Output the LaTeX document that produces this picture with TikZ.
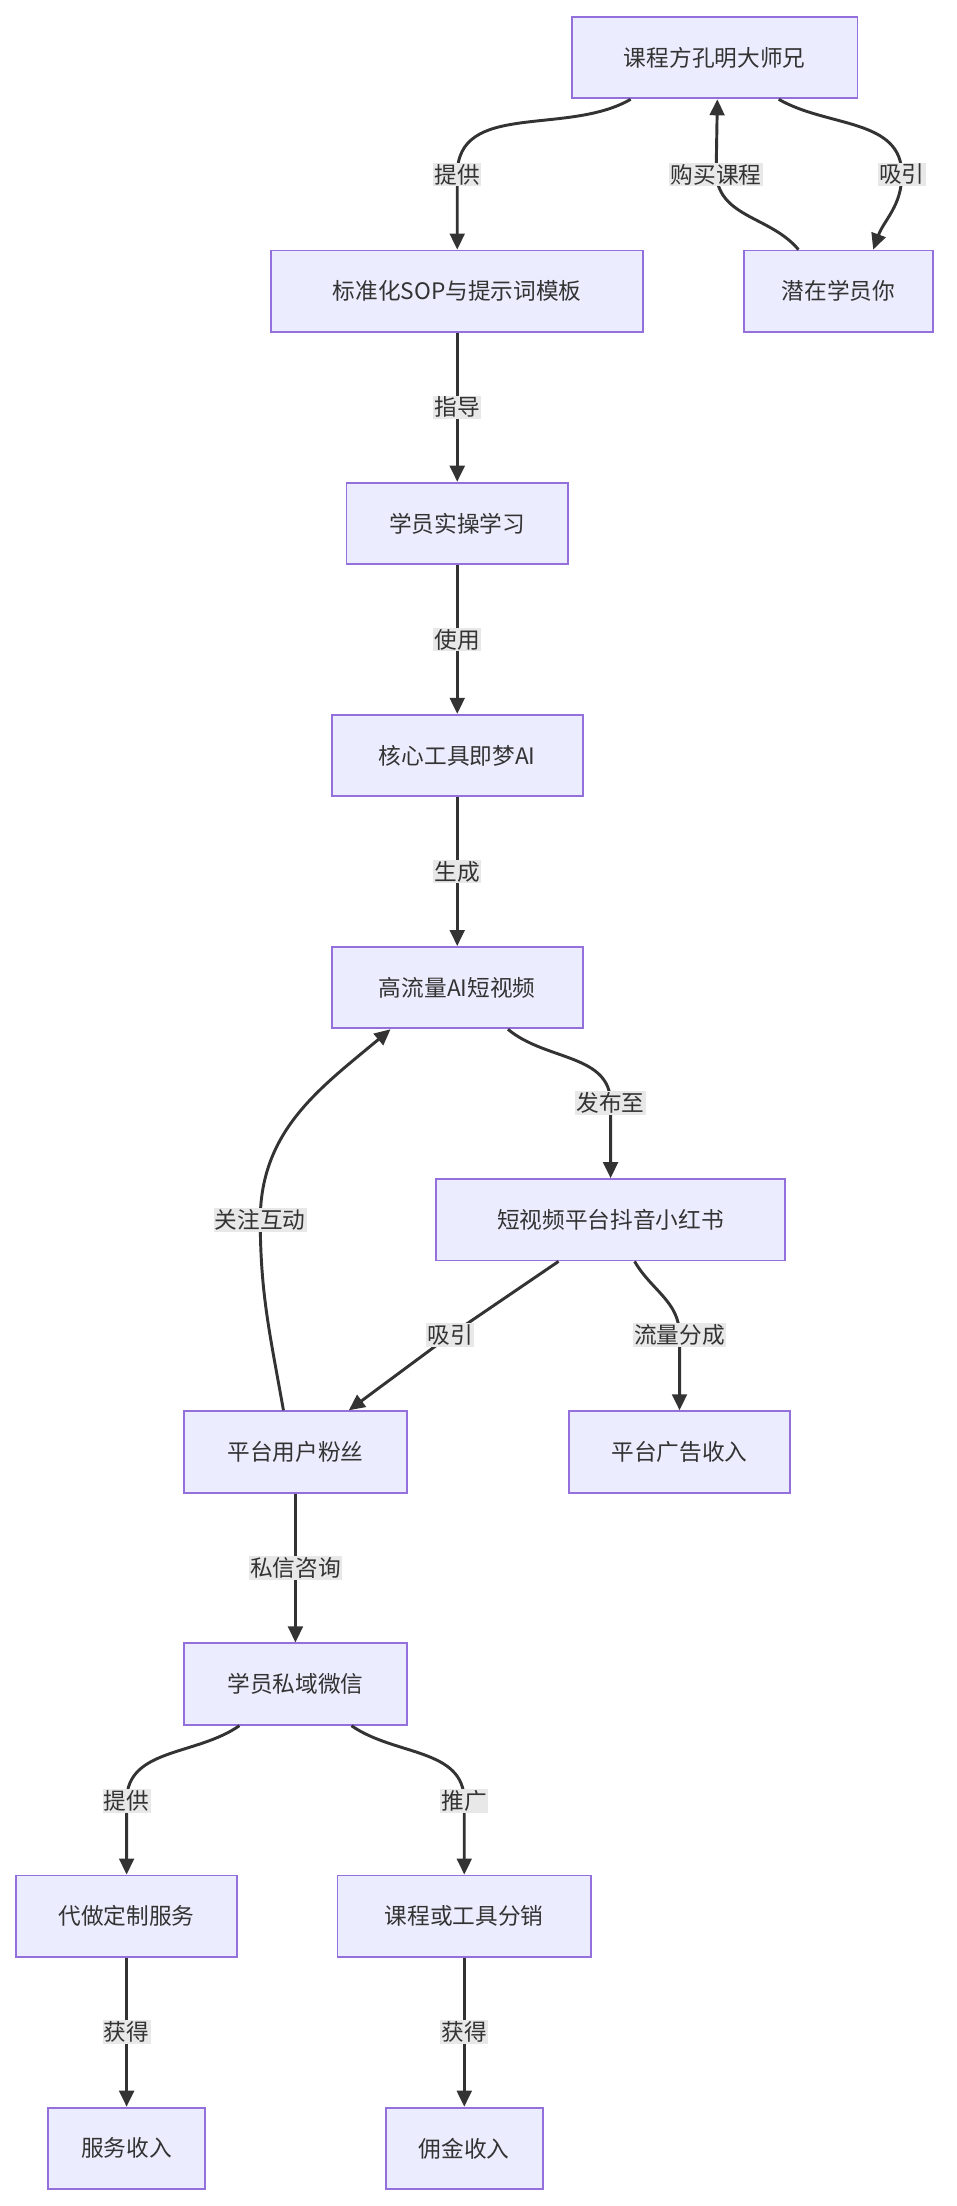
\documentclass[tikz,border=0pt]{standalone}
\usepackage{fontspec}
\setmainfont{Noto Sans CJK SC}
\usetikzlibrary{arrows.meta}
\definecolor{boxfill}{HTML}{ECECFF}
\definecolor{boxline}{HTML}{9370DB}
\definecolor{edgecol}{HTML}{333333}
\definecolor{lblfill}{HTML}{E8E8E8}
\tikzset{
  box/.style={draw=boxline, line width=1.4pt, fill=boxfill, minimum height=61, inner sep=0pt, font=\fontsize{17}{20}\selectfont, text=edgecol},
  edge/.style={draw=edgecol, line width=2.2pt, -{Triangle[length=12pt,width=11pt]}},
  lbl/.style={fill=lblfill, inner sep=1pt, font=\fontsize{17}{20}\selectfont, text=edgecol}
}
\begin{document}
\begin{tikzpicture}[x=1.0547pt,y=-1.0547pt]
\useasboundingbox (0,0) rectangle (680,1568);

% boxes
\node[box, minimum width=214] (src) at (508,41) {课程方孔明大师兄};
\node[box, minimum width=279] (sop) at (325,207) {标准化SOP与提示词模板};
\node[box, minimum width=142] (you) at (596,207) {潜在学员你};
\node[box, minimum width=166] (prac) at (325,372) {学员实操学习};
\node[box, minimum width=188] (tool) at (325,537) {核心工具即梦AI};
\node[box, minimum width=188] (video) at (325,702) {高流量AI短视频};
\node[box, minimum width=262] (plat) at (434,867) {短视频平台抖音小红书};
\node[box, minimum width=167] (fans) at (210,1032) {平台用户粉丝};
\node[box, minimum width=166] (ads) at (483,1032) {平台广告收入};
\node[box, minimum width=167] (wx) at (210,1197) {学员私域微信};
\node[box, minimum width=166] (custom) at (90,1362) {代做定制服务};
\node[box, minimum width=190] (resell) at (330,1362) {课程或工具分销};
\node[box, minimum width=118] (svcinc) at (90,1527) {服务收入};
\node[box, minimum width=118] (comm) at (330,1527) {佣金收入};

% label points
\coordinate (l1) at (325,124);
\coordinate (l2) at (509,124);
\coordinate (l3) at (641,124);
\coordinate (l4) at (434,784);
\coordinate (l5) at (185,867);
\coordinate (l6) at (320,949);
\coordinate (l7) at (483,949);
\coordinate (l8) at (90,1280);
\coordinate (l9) at (330,1280);

% curved edges
\draw[edge] ([xshift=-63]src.south) to[out=-150,in=90] (l1) -- (sop.north);
\draw[edge] ([xshift=-30]you.north) to[out=130,in=-85] (l2) -- ([xshift=2]src.south);
\draw[edge] ([xshift=48]src.south) to[out=-30,in=90] (l3) to[out=-90,in=70] ([xshift=26]you.north);
\draw[edge] ([xshift=38]video.south) to[out=-40,in=90] (l4) -- (plat.north);
\draw[edge] ([xshift=-9]fans.north) to[out=100,in=-90] (l5) to[out=90,in=-140] ([xshift=-50]video.south);
\draw[edge] ([xshift=-39]plat.south) -- (l6) -- ([xshift=40]fans.north);
\draw[edge] ([xshift=18]plat.south) to[out=-60,in=90] (l7) -- (ads.north);
\draw[edge] ([xshift=-42]wx.south) to[out=-145,in=90] (l8) -- (custom.north);
\draw[edge] ([xshift=42]wx.south) to[out=-35,in=90] (l9) -- (resell.north);

% straight edges
\draw[edge] (sop) -- node[lbl] {指导} (prac);
\draw[edge] (prac) -- node[lbl] {使用} (tool);
\draw[edge] (tool) -- node[lbl] {生成} (video);
\draw[edge] (fans) -- node[lbl] {私信咨询} (wx);
\draw[edge] (custom) -- node[lbl] {获得} (svcinc);
\draw[edge] (resell) -- node[lbl] {获得} (comm);

% labels on curves
\foreach \p/\t in {l1/提供,l2/购买课程,l3/吸引,l4/发布至,l5/关注互动,l6/吸引,l7/流量分成,l8/提供,l9/推广}
  \node[lbl] at (\p) {\t};
\end{tikzpicture}
\end{document}
